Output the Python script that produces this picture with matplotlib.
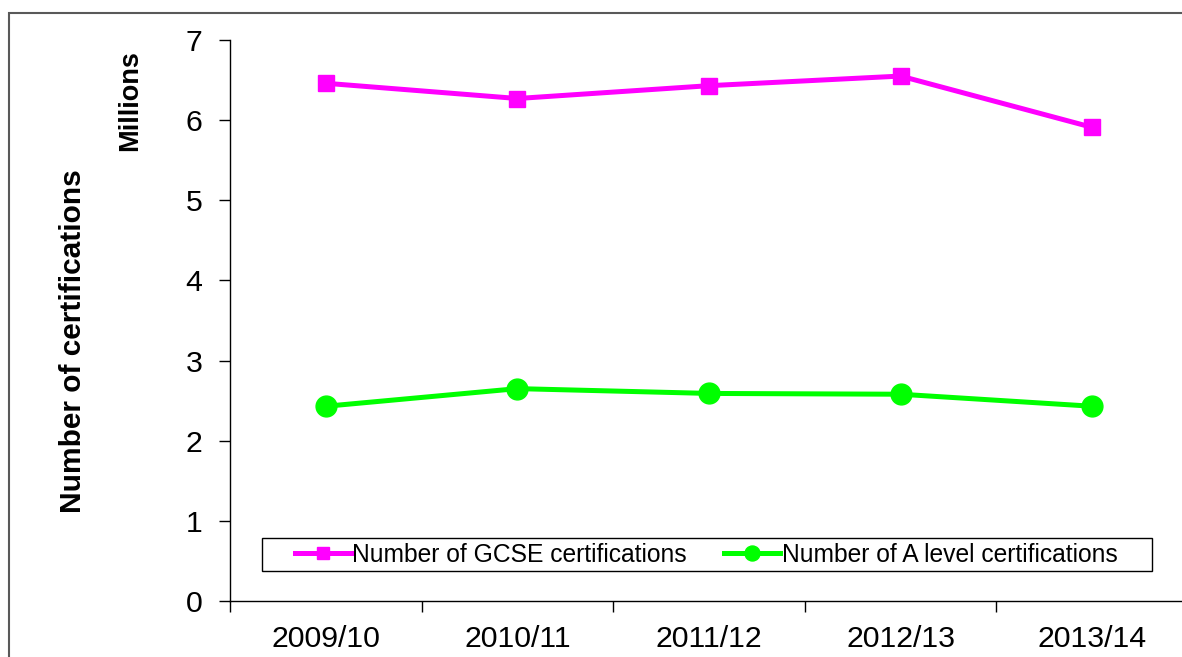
import numpy as np
import matplotlib
matplotlib.use("Agg")
import matplotlib.pyplot as plt
from matplotlib.patches import Rectangle

# data (millions)
years = ['2009/10', '2010/11', '2011/12', '2012/13', '2013/14']
gcse = [6.46, 6.27, 6.43, 6.55, 5.91]
alevel = [2.43, 2.65, 2.59, 2.58, 2.43]

plt.rcParams['font.family'] = ['Liberation Sans', 'DejaVu Sans']

W, H = 1182, 657
fig = plt.figure(figsize=(W / 100, H / 100), dpi=100)

# outer frame of the original chart (cropped on right and bottom)
fig.patches.append(Rectangle((9 / W, -0.2), 2.0, 1 - 13 / H + 0.2,
                             transform=fig.transFigure, fill=False,
                             edgecolor='#595959', linewidth=1.5))

ax = fig.add_axes([230 / W, 1 - 601 / H, 5 * 191.6 / W, 561 / H])

x = np.arange(len(years))
ax.plot(x, gcse, color='#FF00FF', linewidth=3.6, marker='s', markersize=11.5,
        label='Number of GCSE certifications', clip_on=False)
ax.plot(x, alevel, color='#00FF00', linewidth=3.6, marker='o', markersize=15,
        label='Number of A level certifications', clip_on=False)

ax.set_xlim(-0.5, 4.5)
ax.set_ylim(0, 7)
ax.set_yticks(range(0, 8))
ax.tick_params(axis='y', direction='out', length=8, width=1, pad=12, labelsize=21.8)

ax.set_xticks(x)
ax.set_xticklabels(years)
ax.set_xticks(np.arange(-0.5, 4.6, 1), minor=True)
ax.tick_params(axis='x', which='major', length=0, pad=17, labelsize=21.8)
ax.tick_params(axis='x', which='minor', direction='out', length=8, width=1)

for s in ['top', 'right']:
    ax.spines[s].set_visible(False)
for s in ['left', 'bottom']:
    ax.spines[s].set_linewidth(1)
    ax.spines[s].set_color('black')

fig.text(73 / W, 1 - 341 / H, 'Number of certifications', rotation=90,
         ha='center', va='center', fontsize=21.5, fontweight='bold')
fig.text(130 / W, 1 - 101 / H, 'Millions', rotation=90,
         ha='center', va='center', fontsize=19.5, fontweight='bold')

# legend box drawn separately to get the wide side padding of the original
fig.patches.append(Rectangle((262 / W, 1 - 571 / H), (1152 - 262) / W, 33 / H,
                             transform=fig.transFigure, fill=True,
                             facecolor='white', edgecolor='black',
                             linewidth=1, zorder=5))
leg = fig.legend(loc='center', bbox_to_anchor=(706 / W, 1 - 554.5 / H), ncol=2,
                 fontsize=17.7, frameon=False,
                 handlelength=2.3, handletextpad=0.05, columnspacing=1.5,
                 borderpad=0.2, markerscale=0.72)
leg.set_zorder(6)

fig.savefig('out.png', dpi=100)
